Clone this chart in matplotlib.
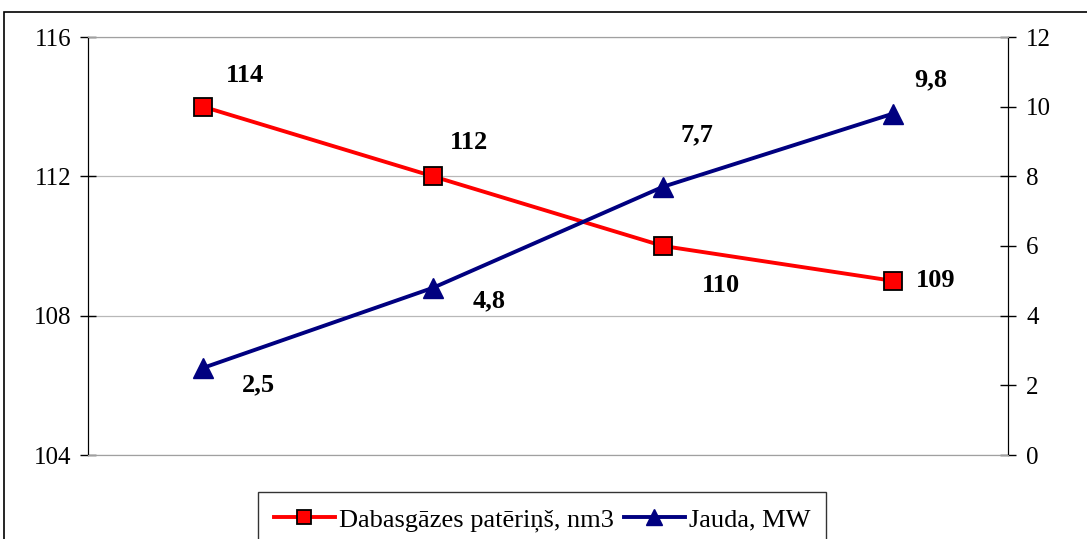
import matplotlib.pyplot as plt
from matplotlib.patches import Rectangle

# ===== DATA =====
categories = ["1", "2", "3", "4"]
gas_usage = [114, 112, 110, 109]
power_mw = [2.5, 4.8, 7.7, 9.8]
gas_labels = ["114", "112", "110", "109"]
power_labels = ["2,5", "4,8", "7,7", "9,8"]

plt.rcParams['font.family'] = ['Liberation Serif', 'DejaVu Serif']

fig = plt.figure(figsize=(10.87, 5.39), dpi=100)
# outer chart frame
fig.patches.append(Rectangle((4 / 1087, -0.1), 1.2, 1 - 12 / 539 + 0.1,
                             transform=fig.transFigure, fill=False,
                             edgecolor="black", linewidth=1.2))

ax = fig.add_axes([88 / 1087, 1 - 455 / 539, 920 / 1087, 418 / 539])
x = list(range(len(categories)))

line_gas, = ax.plot(x, gas_usage, color="#ff0000", linewidth=2.8, marker='s',
                    markersize=13, markerfacecolor="#ff0000", markeredgecolor="black",
                    markeredgewidth=1.3, label="Dabasgāzes patēriņš, nm3", zorder=3)
ax.set_xlim(-0.5, len(categories) - 0.5)
ax.set_ylim(104, 116)
ax.set_yticks([104, 108, 112, 116])
ax.set_xticks([])
ax.yaxis.grid(True, color="#b8b8b8", linewidth=0.9)
ax.tick_params(axis='y', direction='inout', length=12, labelsize=18, width=1, pad=6)

ax2 = ax.twinx()
line_pow, = ax2.plot(x, power_mw, color="#000080", linewidth=2.8, marker='^',
                     markersize=15, markerfacecolor="#000080", markeredgecolor="#000080",
                     label="Jauda, MW", zorder=3)
ax2.set_ylim(0, 12)
ax2.set_yticks(range(0, 13, 2))
ax2.tick_params(axis='y', direction='inout', length=12, labelsize=18, width=1, pad=7)

for a in (ax, ax2):
    a.spines['top'].set_color("#a0a0a0")
    a.spines['bottom'].set_color("#a0a0a0")
    a.spines['left'].set_color("black")
    a.spines['right'].set_color("black")

# ===== DATA LABELS =====
gas_offsets = [(42, 31), (36, 34), (58, -39), (43, 0)]
pow_offsets = [(55, -17), (56, -13), (34, 52), (38, 34)]
for xi, v, t, off in zip(x, gas_usage, gas_labels, gas_offsets):
    ax.annotate(t, (xi, v), xytext=off, textcoords='offset pixels',
                ha='center', va='center', fontsize=19, fontweight='bold')
for xi, v, t, off in zip(x, power_mw, power_labels, pow_offsets):
    ax2.annotate(t, (xi, v), xytext=off, textcoords='offset pixels',
                 ha='center', va='center', fontsize=19, fontweight='bold')

leg = fig.legend(handles=[line_gas, line_pow], loc='upper center',
                 bbox_to_anchor=(542 / 1087, 1 - 492 / 539), ncol=2, fontsize=19,
                 frameon=True, fancybox=False, edgecolor="black",
                 handlelength=2.3, handletextpad=0.15, columnspacing=0.4,
                 borderpad=0.6, borderaxespad=0, markerscale=0.8)
leg.get_frame().set_linewidth(1)

fig.savefig("out.png", dpi=100)
